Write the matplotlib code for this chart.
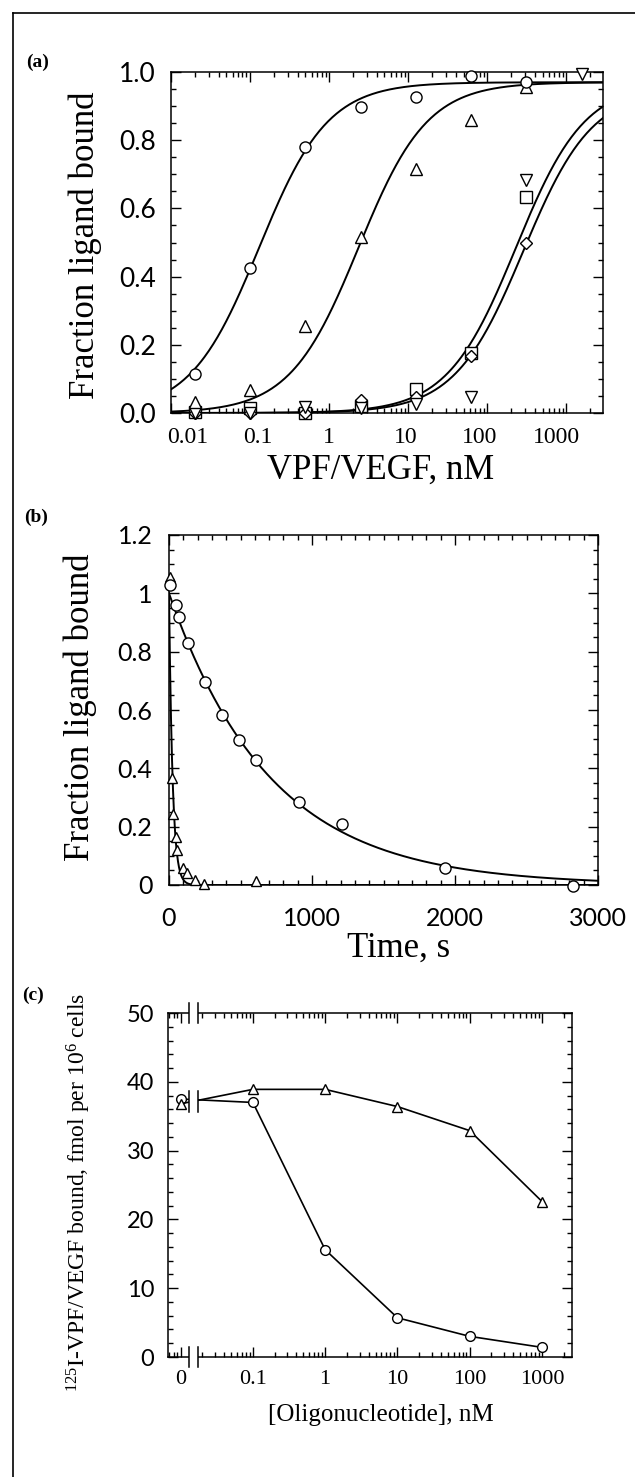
import numpy as np
import matplotlib
matplotlib.use('Agg')
import matplotlib.pyplot as plt
from matplotlib.lines import Line2D
from matplotlib.patches import Rectangle
from matplotlib.ticker import (FixedLocator, LogLocator, MultipleLocator,
                               FuncFormatter, NullFormatter)
from matplotlib.transforms import ScaledTranslation

SERIF = ['Liberation Serif', 'DejaVu Serif']
SANS = ['Lato', 'DejaVu Sans']
plt.rcParams['font.family'] = SERIF
plt.rcParams['mathtext.default'] = 'regular'

# ---- (a) equilibrium binding ----
conc_a = [0.02, 0.1, 0.5, 2.5, 12.5, 62.5, 312.5, 1562.5]
a_circle = [0.113, 0.425, 0.78, 0.898, 0.928, 0.987, 0.97, np.nan]
a_tri_up = [0.032, 0.066, 0.255, 0.516, 0.717, 0.86, 0.955, np.nan]
a_tri_down = [0.0, 0.0, 0.017, 0.015, 0.025, 0.047, 0.683, 0.995]
a_square = [0.003, 0.015, 0.0, 0.02, 0.071, 0.175, 0.634, np.nan]
a_diamond = [0.0, 0.0, 0.0, 0.037, 0.047, 0.166, 0.498, np.nan]
# fitted binding curves: Bmax, Kd (nM)
fit_bmax_a = [0.97, 0.97, 0.97, 0.95]
fit_kd_a = [0.13, 2.35, 230.0, 285.0]
xticks_a = [0.01, 0.1, 1, 10, 100, 1000]

# ---- (b) dissociation kinetics ----
time_circ = [10, 48, 71, 133, 251, 370, 489, 607, 910, 1212, 1932, 2828]
frac_circ = [1.027, 0.96, 0.918, 0.83, 0.696, 0.584, 0.498, 0.428, 0.285, 0.208, 0.06, -0.005]
time_tri = [8, 20, 31, 48, 59, 96, 124, 181, 243, 607]
frac_tri = [1.055, 0.367, 0.245, 0.165, 0.12, 0.057, 0.04, 0.017, 0.003, 0.014]
# single exponential fits: amplitude, rate (1/s)
decay_amp = [1.0, 1.0]
decay_rate = [0.00141, 0.04]

# ---- (c) competition with oligonucleotides ----
oligo_conc = [0, 0.1, 1, 10, 100, 1000]
bound_circ = [37.5, 37.0, 15.6, 5.7, 3.0, 1.4]
bound_tri = [36.8, 38.9, 38.9, 36.4, 32.9, 22.6]
zero_pos = 0.01          # where the "0" concentration is drawn on the log axis
break_x = [0.013, 0.0172]

W, H = 635, 1477
fig = plt.figure(figsize=(W / 100, H / 100), dpi=100)


def box(left, top, right, bottom):
    return [left / W, 1 - bottom / H, (right - left) / W, (bottom - top) / H]


def style_ticks(ax):
    ax.tick_params(which='both', direction='in', top=True, right=True, width=1)
    ax.tick_params(which='major', length=7)
    ax.tick_params(which='minor', length=3.5)
    for s in ax.spines.values():
        s.set_linewidth(1.1)


mk = dict(ls='none', mfc='white', mec='black', mew=1.0, clip_on=False, zorder=4)

# panel (a)
ax = fig.add_axes(box(171, 72, 603, 413))
ax.set_xscale('log')
ax.set_xlim(0.01, 2900)
ax.set_ylim(0, 1.0)
xs = np.logspace(np.log10(0.01), np.log10(2900), 400)
for bmax, kd in zip(fit_bmax_a, fit_kd_a):
    ax.plot(xs, bmax * xs / (kd + xs), color='black', lw=1.4, zorder=2)
for ys, m, ms in [(a_square, 's', 8), (a_diamond, 'D', 6.5), (a_tri_down, 'v', 8),
                  (a_tri_up, '^', 8), (a_circle, 'o', 8)]:
    ax.plot(conc_a, ys, marker=m, ms=ms, **mk)
style_ticks(ax)
ax.xaxis.set_major_locator(FixedLocator(xticks_a))
ax.xaxis.set_minor_locator(LogLocator(base=10, subs=np.arange(2, 10), numticks=20))
ax.xaxis.set_minor_formatter(NullFormatter())
ax.xaxis.set_major_formatter(FuncFormatter(lambda v, p: f'{v:g}'))
ax.yaxis.set_major_locator(MultipleLocator(0.2))
ax.yaxis.set_minor_locator(MultipleLocator(0.05))
ax.yaxis.set_major_formatter(FuncFormatter(lambda v, p: f'{v:.1f}'))
ax.tick_params(axis='x', which='major', labelsize=17, pad=10)
ax.tick_params(axis='y', which='major', labelsize=19, pad=11, labelfontfamily=SANS)
for tick, dx in zip(ax.xaxis.get_major_ticks(len(xticks_a)), [17, 8, 0, -3, -8, -10]):
    tick.label1.set_transform(tick.label1.get_transform() +
                              ScaledTranslation(dx / 100, 0, fig.dpi_scale_trans))
ax.set_ylabel('Fraction ligand bound', fontsize=25, va='center')
ax.yaxis.set_label_coords(-0.199, 0.493)
ax.set_xlabel('VPF/VEGF, nM', fontsize=25, va='center')
ax.xaxis.set_label_coords(0.486, -0.167)

# panel (b)
ax = fig.add_axes(box(169, 535, 598, 885))
ax.set_xlim(0, 3000)
ax.set_ylim(0, 1.2)
tt = np.linspace(0, 3000, 3001)
for amp, k in zip(decay_amp, decay_rate):
    ax.plot(tt, amp * np.exp(-k * tt), color='black', lw=1.4, zorder=2)
ax.plot(time_tri, frac_tri, marker='^', ms=7, **mk)
ax.plot(time_circ, frac_circ, marker='o', ms=8, **mk)
style_ticks(ax)
ax.xaxis.set_major_locator(MultipleLocator(1000))
ax.xaxis.set_minor_locator(MultipleLocator(100))
ax.yaxis.set_major_locator(MultipleLocator(0.2))
ax.yaxis.set_minor_locator(MultipleLocator(0.05))
ax.yaxis.set_major_formatter(FuncFormatter(lambda v, p: f'{v:g}'))
ax.tick_params(which='major', labelsize=18, labelfontfamily=SANS)
ax.tick_params(axis='x', which='major', pad=16)
ax.tick_params(axis='y', which='major', pad=12)
ax.set_ylabel('Fraction ligand bound', fontsize=25, va='center')
ax.yaxis.set_label_coords(-0.207, 0.509)
ax.set_xlabel('Time, s', fontsize=25, va='center')
ax.xaxis.set_label_coords(0.536, -0.182)

# panel (c)
ax = fig.add_axes(box(168, 1013, 572, 1357))
ax.set_xscale('log')
ax.set_xlim(0.0067, 2600)
ax.set_ylim(0, 50)
x_plot = [zero_pos if c == 0 else c for c in oligo_conc]
ax.plot(x_plot, bound_circ, color='black', lw=1.2, marker='o', ms=7,
        mfc='white', mec='black', mew=1.0, zorder=3, clip_on=False)
ax.plot(x_plot, bound_tri, color='black', lw=1.2, marker='^', ms=7,
        mfc='white', mec='black', mew=1.0, zorder=3, clip_on=False)
style_ticks(ax)
ax.xaxis.set_major_locator(FixedLocator(x_plot))
ax.xaxis.set_minor_locator(LogLocator(base=10, subs=np.arange(2, 10), numticks=20))
ax.xaxis.set_minor_formatter(NullFormatter())
ax.xaxis.set_major_formatter(FuncFormatter(lambda v, p: '0' if np.isclose(v, zero_pos) else f'{v:g}'))
ax.yaxis.set_major_locator(MultipleLocator(10))
ax.yaxis.set_minor_locator(MultipleLocator(2))
ax.tick_params(axis='x', which='major', labelsize=16, pad=9)
ax.tick_params(axis='y', which='major', labelsize=17, pad=10, labelfontfamily=SANS)

# axis break between "0" and 0.1
trans = ax.get_xaxis_transform()
ax.add_patch(Rectangle((break_x[0], -0.02), break_x[1] - break_x[0], 1.04,
                       transform=trans, facecolor='white', edgecolor='none',
                       zorder=4, clip_on=False))
break_y = np.mean([bound_circ[0], bound_tri[0]]) / 50
for xb in break_x:
    for yc in (0.0, 1.0, break_y):
        ax.plot([xb, xb], [yc - 0.03, yc + 0.03], color='black', lw=1.1,
                transform=trans, clip_on=False, zorder=5)

ax.set_ylabel(r'$^{125}$I-VPF/VEGF bound, fmol per 10$^{6}$ cells', fontsize=17, va='center')
ax.yaxis.set_label_coords(-0.22, 0.48)
ax.set_xlabel('[Oligonucleotide], nM', fontsize=18, va='center')
ax.xaxis.set_label_coords(0.527, -0.169)

# panel letters and outer frame
for lbl, x, y in [('(a)', 26, 62), ('(b)', 24, 517), ('(c)', 22, 995)]:
    fig.text(x / W, 1 - y / H, lbl, fontsize=14, fontweight='bold', va='center', ha='left')
fig.add_artist(Line2D([13 / W, 1], [1 - 13 / H, 1 - 13 / H], transform=fig.transFigure,
                      color='black', lw=1.2))
fig.add_artist(Line2D([13 / W, 13 / W], [0, 1 - 13 / H], transform=fig.transFigure,
                      color='black', lw=1.2))

fig.savefig('out.png', dpi=100)
